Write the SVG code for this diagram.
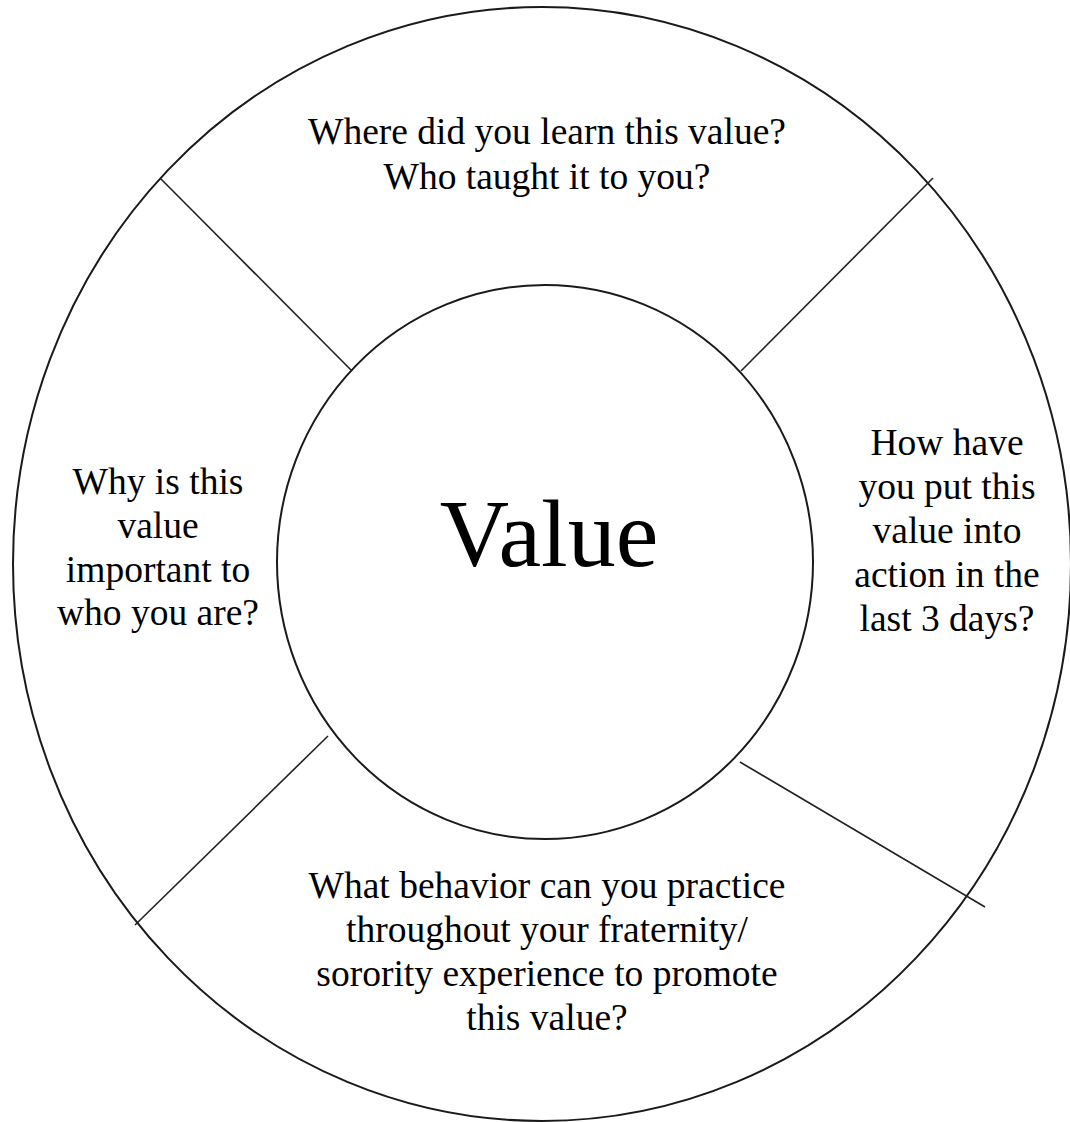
<svg xmlns="http://www.w3.org/2000/svg" width="1070" height="1122" viewBox="0 0 1070 1122">
<style>
.ring{fill:none;stroke:#1a1a1a;stroke-width:2}
.div{stroke:#222;stroke-width:1.6}
text{font-family:"Liberation Serif","Times New Roman",serif;fill:#000;text-anchor:middle}
.q{font-size:37.5px}
.big{font-size:96px}
</style>
<rect width="1070" height="1122" fill="#fff"/>
<g id="outer"><ellipse class="ring" cx="542" cy="564" rx="529" ry="557"/></g>
<g id="connectors">
<line class="div" x1="160" y1="178" x2="352" y2="371"/>
<line class="div" x1="933" y1="178" x2="741" y2="371"/>
<line class="div" x1="135" y1="925" x2="328" y2="736"/>
<line class="div" x1="740" y1="762" x2="985" y2="907"/>
</g>
<g id="center"><ellipse class="ring" cx="545" cy="562" rx="268" ry="277"/>
<text class="big" x="549" y="566">Value</text></g>
<g id="top"><text class="q" x="547" y="144">Where did you learn this value?</text><text class="q" x="547" y="189">Who taught it to you?</text></g>
<g id="left"><text class="q" x="158" y="494">Why is this</text><text class="q" x="158" y="538">value</text><text class="q" x="158" y="582">important to</text><text class="q" x="158" y="625">who you are?</text></g>
<g id="right"><text class="q" x="947" y="455">How have</text><text class="q" x="947" y="499">you put this</text><text class="q" x="947" y="543">value into</text><text class="q" x="947" y="587">action in the</text><text class="q" x="947" y="631">last 3 days?</text></g>
<g id="bottom"><text class="q" x="547" y="898">What behavior can you practice</text><text class="q" x="547" y="942">throughout your fraternity/</text><text class="q" x="547" y="986">sorority experience to promote</text><text class="q" x="547" y="1030">this value?</text></g>
</svg>
